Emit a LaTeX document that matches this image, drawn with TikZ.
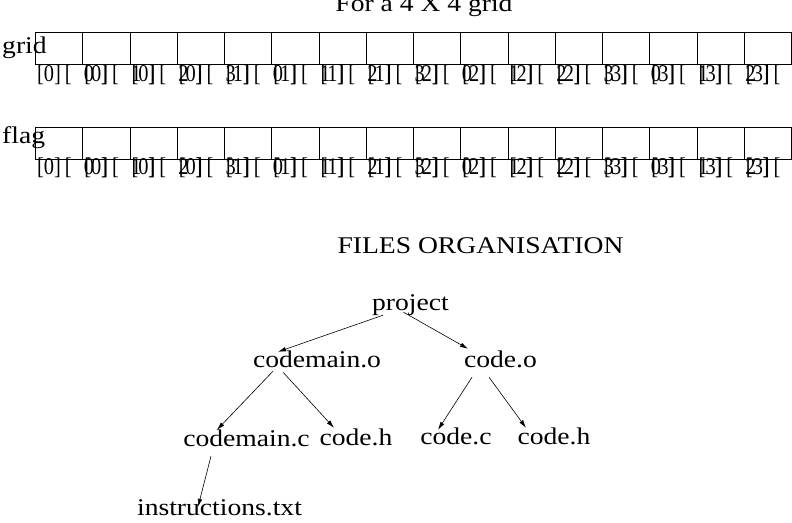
\documentclass[tikz,border=0pt]{standalone}
\usepackage{fontspec}
\setmainfont{Liberation Serif}[FakeStretch=1.15]
\newfontfamily\idxfont{Liberation Serif}[FakeStretch=0.85]
\usetikzlibrary{arrows.meta}

\newcommand{\idx}[2]{[#1]\hspace{4pt}[\hspace{12pt}#2\hspace{7pt}]}

\begin{document}
\begin{tikzpicture}[x=1pt,y=-1pt,
  every node/.style={inner sep=0pt, font=\fontsize{24}{28}\selectfont},
  word/.style={anchor=base, text height=16pt, text depth=5pt},
  cellbox/.style={draw, line width=0.8pt, minimum width=47.25pt, minimum height=32pt, anchor=north west},
  idxtext/.style={anchor=base west, font=\idxfont\fontsize{24}{28}\selectfont},
  link/.style={line width=0.6pt, -{Latex[length=8pt,width=4.5pt]}}]
  \useasboundingbox (0,0) rectangle (792,522);
  \clip (0,0) rectangle (792,522);

  \node[anchor=base] (title) at (424,11) {For a 4 X 4 grid};
  \node[anchor=base west] (gridname) at (2,53) {grid};
  \node[anchor=base west] (flagname) at (2,143) {flag};

  % the two arrays and their indices
  \foreach \k in {0,...,15} {
    \pgfmathtruncatemacro\rowi{\k/4}
    \pgfmathtruncatemacro\coli{mod(\k,4)}
    \node[cellbox] (grid\k) at (35+47.25*\k,32) {};
    \node[idxtext] (grididx\k) at (37+47.25*\k,81) {\idx{\rowi}{\coli}};
    \node[cellbox] (flag\k) at (35+47.25*\k,127) {};
    \node[idxtext] (flagidx\k) at (37+47.25*\k,174) {\idx{\rowi}{\coli}};
  }

  \node[anchor=base] (filesorg) at (480.5,253) {FILES ORGANISATION};

  % file tree
  \node[word] (project) at (410.5,310) {project};
  \node[word] (codemaino) at (317,367) {codemain.o};
  \node[word] (codeo) at (500.5,367) {code.o};
  \node[word] (codemainc) at (246.5,446) {codemain.c};
  \node[word] (codeha) at (356,445) {code.h};
  \node[word] (codec) at (456,444) {code.c};
  \node[word] (codehb) at (554,444) {code.h};
  \node[word] (instr) at (219.5,515) {instructions.txt};

  \draw[link] ([shift={(-27.5,0)}]project.south) -- ([shift={(-39,1)}]codemaino.north);
  \draw[link] ([shift={(-7,-3)}]project.south) -- ([shift={(-32.5,-2)}]codeo.north);
  \draw[link] ([shift={(-44,-1)}]codemaino.south) -- ([shift={(-29.5,0)}]codemainc.north);
  \draw[link] ([shift={(-34,0)}]codemaino.south) -- ([shift={(-22,-1)}]codeha.north);
  \draw[link] ([shift={(-28.5,5)}]codeo.south) -- ([shift={(-18,2)}]codec.north);
  \draw[link] ([shift={(-11.5,5)}]codeo.south) -- ([shift={(-28,0)}]codehb.north);
  \draw[link] ([shift={(-35.5,5)}]codemainc.south) -- ([shift={(-21.5,8)}]instr.north);
\end{tikzpicture}
\end{document}
